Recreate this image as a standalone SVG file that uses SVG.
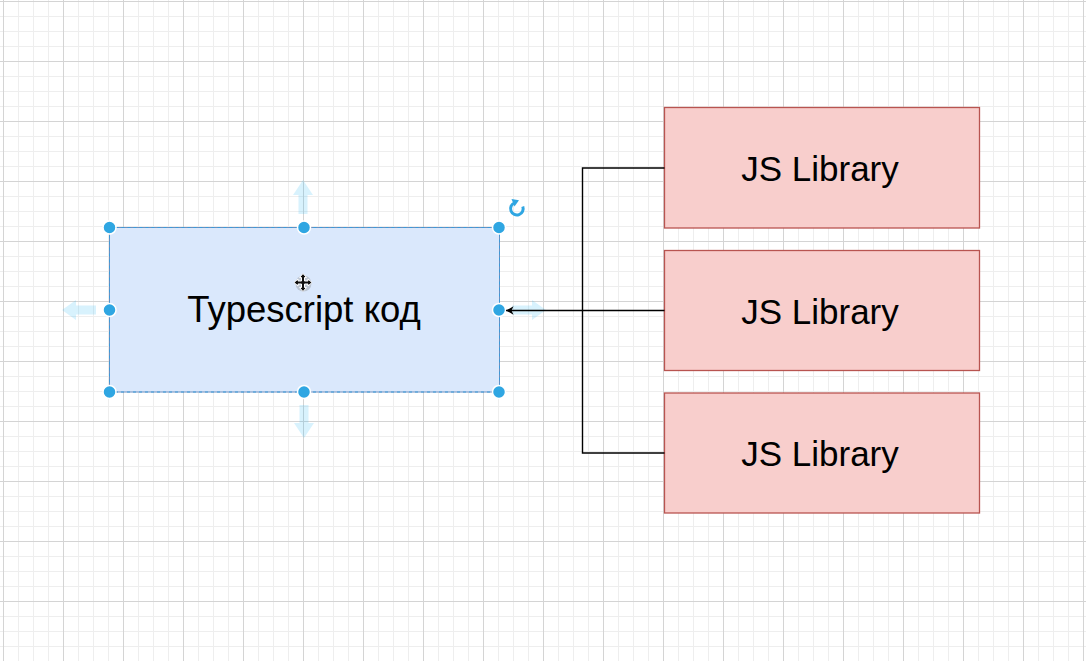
<svg xmlns="http://www.w3.org/2000/svg" width="1086" height="661" viewBox="0 0 1086 661">
<style>
.lbl{font-family:"Liberation Sans",Arial,Helvetica,sans-serif;font-size:35px;fill:#000;text-anchor:middle}
.lib{fill:#f8cecc;stroke:#b85450;stroke-width:1.3}
.conn{fill:none;stroke:#000;stroke-width:1.4}
.handle{fill:#2fa6e2;stroke:#fff;stroke-width:1.5}
.hint{fill:#29b6f2;opacity:0.18}
</style>
<defs>
<pattern id="grid" patternUnits="userSpaceOnUse" x="3" y="1" width="60" height="60">
<path d="M15.5 0V60M30.5 0V60M45.5 0V60M0 15.5H60M0 30.5H60M0 45.5H60" stroke="#eeeeee" stroke-width="1"/>
<path d="M0.5 0V60M0 0.5H60" stroke="#d4d4d4" stroke-width="1"/>
</pattern>
<marker id="arr" markerWidth="12" markerHeight="12" refX="9" refY="5" orient="auto" markerUnits="userSpaceOnUse">
<path d="M9 5L1.5 0.8L3.5 5L1.5 9.2Z" fill="#000"/>
</marker>
</defs>
<rect width="1086" height="661" fill="#fff"/>
<rect width="1086" height="661" fill="url(#grid)"/>

<g id="typescript">
<rect x="109.5" y="227.5" width="390" height="164.5" fill="#dae8fc" stroke="#6c8ebf" stroke-width="1"/>
<rect x="109.5" y="227.5" width="390" height="164.5" fill="none" stroke="#3a9ad9" stroke-width="1" stroke-dasharray="3 3"/>
<text class="lbl" x="304" y="322" style="font-size:36.5px">Typescript код</text>
</g>

<g id="lib1">
<rect class="lib" x="664.5" y="107.5" width="315" height="120.5"/>
<text class="lbl" x="820" y="181">JS Library</text>
</g>
<g id="lib2">
<rect class="lib" x="664.5" y="250.5" width="315" height="120"/>
<text class="lbl" x="820" y="323.5">JS Library</text>
</g>
<g id="lib3">
<rect class="lib" x="664.5" y="393" width="315" height="120"/>
<text class="lbl" x="820" y="466">JS Library</text>
</g>

<g id="selection-ui">
<path class="hint" d="M303 180L313 195H307.5V214H298.5V195H293Z"/>
<path class="hint" d="M304 438L314 423H308.5V405H299.5V423H294Z"/>
<path class="hint" d="M62 310L76 300V305.5H96V314.5H76V320Z"/>
<path class="hint" d="M546 310L532 300V305.5H512V314.5H532V320Z"/>
<circle class="handle" cx="109.5" cy="227.5" r="6.5"/>
<circle class="handle" cx="304" cy="227.5" r="6.5"/>
<circle class="handle" cx="499" cy="227.5" r="6.5"/>
<circle class="handle" cx="109.5" cy="310" r="6.5"/>
<circle class="handle" cx="499" cy="310" r="6.5"/>
<circle class="handle" cx="109.5" cy="392" r="6.5"/>
<circle class="handle" cx="304" cy="392" r="6.5"/>
<circle class="handle" cx="499" cy="392" r="6.5"/>
<path d="M514.5 202.8A6.3 6.3 0 1 0 522.8 206.5" fill="none" stroke="#2fa6e2" stroke-width="3"/>
<path d="M511.5 199L519 200.3L514.5 206.5Z" fill="#2fa6e2"/>
<g id="move-cursor">
<circle cx="303.5" cy="283.5" r="8" fill="#888" opacity="0.35"/>
<path d="M303 273.5L306.5 277.5H304.5V281H308V279L312 282.5L308 286V284H304.5V287.5H306.5L303 291.5L299.5 287.5H301.5V284H298V286L294 282.5L298 279V281H301.5V277.5H299.5Z" fill="#111" stroke="#fff" stroke-width="1"/>
</g>
</g>

<g id="connectors">
<path class="conn" d="M664.5 168H582.5V453H664.5"/>
<path class="conn" d="M664.5 310.5H506" marker-end="url(#arr)"/>
</g>
</svg>
